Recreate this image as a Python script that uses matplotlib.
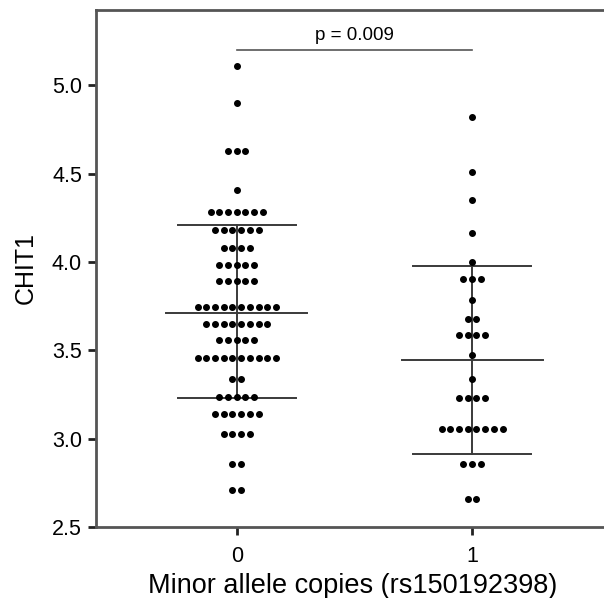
import matplotlib.pyplot as plt

plt.rcParams['font.family'] = ['Liberation Sans', 'DejaVu Sans']

# dot rows: (value, number of dots in the row)
G0_VALS = [5.110, 4.903, 4.630, 4.409, 4.281, 4.183, 4.077, 3.986, 3.891, 3.746,
           3.652, 3.556, 3.458, 3.339, 3.237, 3.137, 3.028, 2.859, 2.712]
G0_COUNTS = [1, 1, 3, 1, 7, 6, 4, 5, 5, 10, 8, 5, 10, 2, 5, 6, 4, 2, 2]
G1_VALS = [4.824, 4.509, 4.353, 4.165, 3.998, 3.906, 3.783, 3.678, 3.588, 3.473,
           3.336, 3.230, 3.055, 2.857, 2.661]
G1_COUNTS = [1, 1, 1, 1, 1, 3, 1, 2, 4, 1, 1, 4, 8, 3, 2]
MEANS = [3.713, 3.448]
UPPER = [4.211, 3.976]
LOWER = [3.228, 2.915]
GROUPS = ['0', '1']
P_TEXT = 'p = 0.009'

fig = plt.figure(figsize=(6.04, 5.98), dpi=100)
ax = fig.add_axes([96 / 604, 1 - 527 / 598, 1 - 96 / 604 + 0.01, 517 / 598])

step = 0.037
for gx, vals, counts in [(0, G0_VALS, G0_COUNTS), (1, G1_VALS, G1_COUNTS)]:
    xs, ys = [], []
    for v, n in zip(vals, counts):
        for k in range(n):
            xs.append(gx + (k - (n - 1) / 2) * step)
            ys.append(v)
    ax.plot(xs, ys, 'o', color='black', markersize=4.0, zorder=3)

lc = '#3a3a3a'
for gx in range(2):
    ax.plot([gx - 0.30, gx + 0.30], [MEANS[gx]] * 2, color=lc, lw=1.4, zorder=2)
    ax.plot([gx - 0.25, gx + 0.25], [UPPER[gx]] * 2, color=lc, lw=1.4, zorder=2)
    ax.plot([gx - 0.25, gx + 0.25], [LOWER[gx]] * 2, color=lc, lw=1.4, zorder=2)
    ax.plot([gx, gx], [LOWER[gx], UPPER[gx]], color=lc, lw=1.4, zorder=2)

ax.plot([0, 1], [5.20, 5.20], color='#555555', lw=1.2)
ax.text(0.5, 5.235, P_TEXT, ha='center', va='bottom', fontsize=13.5)

ax.set_xlim(-0.598, 1.586)
ax.set_ylim(2.5, 5.427)
ax.set_xticks([0, 1])
ax.set_xticklabels(GROUPS)
ax.set_yticks([2.5, 3.0, 3.5, 4.0, 4.5, 5.0])
ax.set_yticklabels(['2.5', '3.0', '3.5', '4.0', '4.5', '5.0'])
ax.tick_params(labelsize=15.5, length=6, width=2, color='#222222', pad=4)
ax.tick_params(axis='x', pad=8)
ax.set_xlabel('Minor allele copies (rs150192398)', fontsize=19.5, labelpad=4)
ax.set_ylabel('CHIT1', fontsize=18, labelpad=10)
ax.spines['right'].set_visible(False)
for s in ['left', 'bottom', 'top']:
    ax.spines[s].set_color('#555555')
    ax.spines[s].set_linewidth(2)

fig.savefig('out.png', dpi=100)
